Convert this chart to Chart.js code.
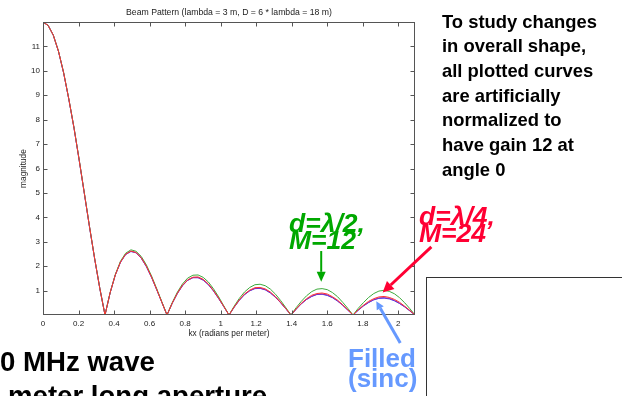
<!DOCTYPE html>
<html>
<head>
<meta charset="utf-8">
<script src="https://cdn.jsdelivr.net/npm/chart.js@4.4.1/dist/chart.umd.min.js"></script>
<style>
  html, body { margin: 0; padding: 0; background: #fff; }
  #page { position: relative; width: 622px; height: 396px; overflow: hidden; background: #fff; }
  #beam { position: absolute; left: 0; top: 0; }
  .note { position: absolute; font-family: "Liberation Sans", Arial, sans-serif; font-weight: bold; white-space: pre; }
</style>
</head>
<body>
<div id="page">
  <canvas id="beam" width="622" height="396"></canvas>
  <div class="note" style="left:442px; top:9.5px; font-size:18.4px; line-height:24.7px; color:#000;">To study changes
in overall shape,
all plotted curves
are artificially
normalized to
have gain 12 at
angle 0</div>
  <div class="note" style="left:289px; top:215px; font-size:26.5px; line-height:17px; font-style:italic; color:#00a800;">d=λ/2,
M=12</div>
  <div class="note" style="left:419px; top:208px; font-size:26.5px; line-height:17px; font-style:italic; color:#ff0033;">d=λ/4,
M=24</div>
  <div class="note" style="left:348px; top:348px; font-size:26px; line-height:20px; color:#6699ff;">Filled
(sinc)</div>
  <div class="note" style="left:0px; top:347px; font-size:27.6px; line-height:30px; color:#000;">0 MHz wave</div>
  <div class="note" style="left:8px; top:381px; font-size:27.6px; line-height:30px; color:#000;">meter long aperture</div>
  <div style="position:absolute; left:426px; top:277px; width:300px; height:200px; border:1.5px solid #333;"></div>
</div>
<script>
// kx in radians per meter
var kx = [0, 0.029, 0.058, 0.087, 0.116, 0.145, 0.175, 0.204, 0.233, 0.262, 0.291, 0.320, 0.349,
  0.378, 0.407, 0.436, 0.465, 0.495, 0.524, 0.553, 0.582, 0.611, 0.640, 0.669, 0.698,
  0.727, 0.756, 0.785, 0.814, 0.844, 0.873, 0.902, 0.931, 0.960, 0.989, 1.018, 1.047,
  1.076, 1.105, 1.134, 1.164, 1.193, 1.222, 1.251, 1.280, 1.309, 1.338, 1.367, 1.396,
  1.425, 1.454, 1.484, 1.513, 1.542, 1.571, 1.600, 1.629, 1.658, 1.687, 1.716, 1.745,
  1.774, 1.804, 1.833, 1.862, 1.891, 1.920, 1.949, 1.978, 2.007, 2.036, 2.065, 2.094];

var filledSinc = [12, 11.86, 11.46, 10.80, 9.92, 8.85, 7.64, 6.32, 4.96, 3.60, 2.29, 1.08, 0,
  0.91, 1.64, 2.16, 2.48, 2.60, 2.55, 2.33, 1.98, 1.54, 1.04, 0.52, 0,
  0.47, 0.88, 1.20, 1.42, 1.53, 1.53, 1.43, 1.24, 0.98, 0.67, 0.34, 0,
  0.32, 0.60, 0.83, 0.99, 1.08, 1.09, 1.03, 0.90, 0.72, 0.50, 0.25, 0,
  0.24, 0.46, 0.64, 0.76, 0.84, 0.85, 0.80, 0.71, 0.57, 0.40, 0.20, 0,
  0.19, 0.37, 0.51, 0.62, 0.68, 0.69, 0.66, 0.58, 0.47, 0.33, 0.17, 0];

var halfLambdaM12 = [12, 11.86, 11.46, 10.81, 9.94, 8.87, 7.66, 6.35, 4.99, 3.62, 2.31, 1.09, 0,
  0.92, 1.66, 2.20, 2.53, 2.67, 2.61, 2.40, 2.05, 1.60, 1.08, 0.54, 0,
  0.50, 0.93, 1.27, 1.51, 1.63, 1.64, 1.54, 1.35, 1.07, 0.74, 0.37, 0,
  0.36, 0.68, 0.94, 1.13, 1.24, 1.26, 1.20, 1.06, 0.85, 0.59, 0.30, 0,
  0.30, 0.56, 0.79, 0.96, 1.06, 1.08, 1.04, 0.92, 0.75, 0.52, 0.27, 0,
  0.27, 0.51, 0.72, 0.88, 0.98, 1.01, 0.97, 0.87, 0.71, 0.50, 0.26, 0];

var quarterLambdaM24 = [12, 11.86, 11.46, 10.81, 9.93, 8.86, 7.64, 6.33, 4.97, 3.61, 2.30, 1.08, 0,
  0.92, 1.64, 2.17, 2.49, 2.62, 2.56, 2.35, 2.00, 1.56, 1.05, 0.52, 0,
  0.48, 0.89, 1.22, 1.44, 1.55, 1.56, 1.46, 1.27, 1.00, 0.69, 0.35, 0,
  0.33, 0.62, 0.86, 1.02, 1.12, 1.13, 1.07, 0.94, 0.75, 0.52, 0.26, 0,
  0.25, 0.48, 0.67, 0.81, 0.88, 0.90, 0.86, 0.75, 0.61, 0.42, 0.22, 0,
  0.21, 0.40, 0.56, 0.67, 0.74, 0.76, 0.72, 0.64, 0.52, 0.36, 0.19, 0];

var eighthLambdaM48 = [12, 11.86, 11.46, 10.80, 9.92, 8.85, 7.64, 6.33, 4.96, 3.60, 2.29, 1.08, 0,
  0.91, 1.64, 2.16, 2.48, 2.61, 2.55, 2.33, 1.99, 1.55, 1.04, 0.52, 0,
  0.48, 0.88, 1.20, 1.42, 1.53, 1.53, 1.43, 1.25, 0.99, 0.68, 0.34, 0,
  0.32, 0.61, 0.84, 1.00, 1.09, 1.10, 1.04, 0.91, 0.73, 0.50, 0.26, 0,
  0.24, 0.46, 0.64, 0.77, 0.85, 0.86, 0.82, 0.72, 0.58, 0.40, 0.20, 0,
  0.20, 0.38, 0.52, 0.63, 0.70, 0.71, 0.68, 0.60, 0.48, 0.34, 0.17, 0];

var xTicks = [0, 0.2, 0.4, 0.6, 0.8, 1, 1.2, 1.4, 1.6, 1.8, 2];
var xTickLabels = ['0', '0.2', '0.4', '0.6', '0.8', '1', '1.2', '1.4', '1.6', '1.8', '2'];
var yTicks = [1, 2, 3, 4, 5, 6, 7, 8, 9, 10, 11];
var yTickLabels = ['1', '2', '3', '4', '5', '6', '7', '8', '9', '10', '11'];

var tickFont = { family: "'Liberation Sans', Arial, sans-serif", size: 8 };
var labelFont = { family: "'Liberation Sans', Arial, sans-serif", size: 8.3 };

function points(values) {
    return kx.map(function (x, i) { return { x: x, y: values[i] }; });
}

// arrows are placed in data units so they follow the scales
var arrows = [
    { from: [1.566, 2.62], to: [1.566, 1.36], color: '#00a800', width: 2, head: 10, half: 4.5 },
    { from: [2.186, 2.79], to: [1.912, 0.92], color: '#ff0033', width: 3, head: 11, half: 5.5 },
    { from: [2.011, -1.15], to: [1.876, 0.56], color: '#6699ff', width: 3, head: 8, half: 4 }
];

var framePlugin = {
    id: 'frame',
    afterDatasetsDraw: function (chart) {
        var ctx = chart.ctx, a = chart.chartArea;
        var xs = chart.scales.x, ys = chart.scales.y;
        var l = Math.round(a.left) + 0.5, r = Math.round(a.right) - 0.5;
        var t = Math.round(a.top) + 0.5, b = Math.round(a.bottom) - 0.5;
        ctx.save();
        ctx.strokeStyle = '#555';
        ctx.lineWidth = 1;
        ctx.strokeRect(l, t, r - l, b - t);
        ctx.beginPath();
        xTicks.forEach(function (v) {
            var px = Math.round(xs.getPixelForValue(v)) + 0.5;
            ctx.moveTo(px, b); ctx.lineTo(px, b - 4);
            ctx.moveTo(px, t); ctx.lineTo(px, t + 4);
        });
        yTicks.forEach(function (v) {
            var py = Math.round(ys.getPixelForValue(v)) + 0.5;
            ctx.moveTo(l, py); ctx.lineTo(l + 4, py);
            ctx.moveTo(r, py); ctx.lineTo(r - 4, py);
        });
        ctx.stroke();
        ctx.restore();
    },
    afterDraw: function (chart) {
        var ctx = chart.ctx;
        var xs = chart.scales.x, ys = chart.scales.y;
        ctx.save();
        arrows.forEach(function (ar) {
            var x0 = xs.getPixelForValue(ar.from[0]), y0 = ys.getPixelForValue(ar.from[1]);
            var x1 = xs.getPixelForValue(ar.to[0]), y1 = ys.getPixelForValue(ar.to[1]);
            var ang = Math.atan2(y1 - y0, x1 - x0);
            var bx = x1 - Math.cos(ang) * ar.head, by = y1 - Math.sin(ang) * ar.head;
            ctx.strokeStyle = ar.color;
            ctx.fillStyle = ar.color;
            ctx.lineWidth = ar.width;
            ctx.beginPath();
            ctx.moveTo(x0, y0);
            ctx.lineTo(bx, by);
            ctx.stroke();
            ctx.beginPath();
            ctx.moveTo(x1, y1);
            ctx.lineTo(bx + Math.sin(ang) * ar.half, by - Math.cos(ang) * ar.half);
            ctx.lineTo(bx - Math.sin(ang) * ar.half, by + Math.cos(ang) * ar.half);
            ctx.closePath();
            ctx.fill();
        });
        ctx.restore();
    }
};

new Chart(document.getElementById('beam'), {
    type: 'line',
    data: {
        datasets: [
            { label: 'd = lambda/4, M = 24', data: points(quarterLambdaM24), borderColor: 'rgb(255,50,50)' },
            { label: 'd = lambda/2, M = 12', data: points(halfLambdaM12), borderColor: 'rgb(60,170,60)' },
            { label: 'd = lambda/8, M = 48', data: points(eighthLambdaM48), borderColor: 'rgb(150,40,170)' },
            { label: 'Filled (sinc)', data: points(filledSinc), borderColor: 'rgb(50,60,255)' }
        ]
    },
    options: {
        responsive: false,
        animation: false,
        elements: {
            line: { borderWidth: 1, tension: 0, fill: false },
            point: { radius: 0 }
        },
        layout: { padding: { left: 0, right: 207, top: 0, bottom: 51 } },
        plugins: {
            legend: { display: false },
            tooltip: { enabled: false },
            title: {
                display: true,
                fullSize: false,
                text: 'Beam Pattern (lambda = 3 m, D = 6 * lambda = 18 m)',
                color: '#222',
                font: { family: tickFont.family, size: 8.7, weight: 'normal' },
                padding: { top: 7.6, bottom: 4 }
            }
        },
        scales: {
            x: {
                type: 'linear',
                min: 0,
                max: 2.094,
                afterBuildTicks: function (s) { s.ticks = xTicks.map(function (v) { return { value: v }; }); },
                afterFit: function (s) { s.height = 30; },
                grid: { display: false, drawTicks: false },
                border: { display: false },
                ticks: {
                    autoSkip: false, maxRotation: 0, padding: 4, color: '#222', font: tickFont,
                    callback: function (v, i) { return xTickLabels[i]; }
                },
                title: { display: true, text: 'kx (radians per meter)', color: '#222', font: labelFont, padding: { top: 0, bottom: 6.5 } }
            },
            y: {
                min: 0,
                max: 12,
                afterBuildTicks: function (s) { s.ticks = yTicks.map(function (v) { return { value: v }; }); },
                afterFit: function (s) { s.width = 43; },
                grid: { display: false, drawTicks: false },
                border: { display: false },
                ticks: {
                    autoSkip: false, padding: 3, color: '#222', font: tickFont,
                    callback: function (v, i) { return yTickLabels[i]; }
                },
                title: { display: true, text: 'magnitude', color: '#222', font: labelFont, padding: { top: 18.5, bottom: 0 } }
            }
        }
    },
    plugins: [framePlugin]
});
</script>
</body>
</html>
